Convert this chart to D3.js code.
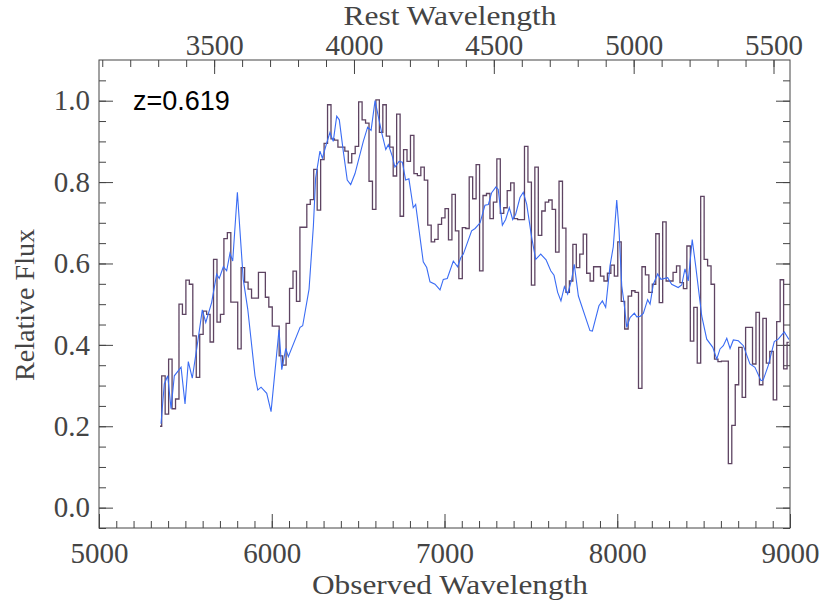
<!DOCTYPE html>
<html>
<head>
<meta charset="utf-8"/>
<script src="https://cdn.jsdelivr.net/npm/d3@7"></script>
<style>
html, body {
  margin: 0;
  background: #fff;
}
.axis text {
  font-family: "Liberation Serif", serif;
  font-size: 29px;
  fill: #444;
}
.axis line {
  stroke: #444;
  stroke-width: 1;
}
.title {
  font-family: "Liberation Serif", serif;
  font-size: 28px;
  fill: #444;
}
</style>
</head>
<body>
<svg id="chart" width="830" height="608"></svg>

<script>

// redshift of the object
var z = 0.619;

// observed spectrum, 20 A bins starting at binStart (drawn as histogram)
var binStart = 5353;
var binWidth = 20;
var obsFlux = [
  0.2, 0.324, 0.23, 0.365, 0.243, 0.267, 0.5, 0.475, 0.559, 0.549,
  0.422, 0.32, 0.426, 0.483, 0.475, 0.407, 0.61, 0.456, 0.475, 0.661,
  0.676, 0.505, 0.505, 0.39, 0.59, 0.554, 0.537, 0.515, 0.515, 0.578,
  0.578, 0.517, 0.493, 0.446, 0.446, 0.373, 0.35, 0.453, 0.539, 0.581,
  0.507, 0.689, 0.689, 0.745, 0.757, 0.831, 0.731, 0.855, 0.895, 0.99,
  0.906, 0.903, 0.886, 0.886, 0.876, 0.847, 0.87, 0.888, 0.997, 0.953,
  0.945, 0.802, 0.733, 1.002, 0.922, 0.99, 0.913, 0.886, 0.815, 0.967,
  0.716, 0.88, 0.851, 0.915, 0.821, 0.816, 0.837, 0.805, 0.694, 0.653,
  0.659, 0.696, 0.712, 0.735, 0.658, 0.77, 0.68, 0.563, 0.688, 0.686,
  0.813, 0.759, 0.843, 0.582, 0.767, 0.772, 0.71, 0.751, 0.857, 0.723,
  0.737, 0.779, 0.798, 0.71, 0.708, 0.708, 0.888, 0.8, 0.547, 0.837,
  0.669, 0.729, 0.751, 0.756, 0.733, 0.628, 0.802, 0.687, 0.529, 0.557,
  0.647, 0.59, 0.623, 0.672, 0.576, 0.557, 0.592, 0.592, 0.569, 0.557,
  0.576, 0.596, 0.569, 0.653, 0.507, 0.439, 0.52, 0.533, 0.529, 0.293,
  0.592, 0.572, 0.529, 0.549, 0.673, 0.504, 0.702, 0.557, 0.557, 0.578,
  0.594, 0.553, 0.538, 0.643, 0.409, 0.492, 0.355, 0.765, 0.61, 0.594,
  0.549, 0.365, 0.359, 0.36, 0.36, 0.108, 0.202, 0.302, 0.394, 0.271,
  0.443, 0.443, 0.353, 0.48, 0.302, 0.465, 0.355, 0.384, 0.265, 0.457,
  0.56, 0.341, 0.406
];

// template spectrum (blue line)
var tplWave = [
  5359, 5378, 5398, 5417, 5436, 5475, 5498, 5517, 5540, 5571,
  5598, 5618, 5652, 5681, 5696, 5720, 5739, 5758, 5774, 5801,
  5835, 5861, 5903, 5919, 5938, 5971, 5996, 6042, 6058, 6081,
  6096, 6164, 6179, 6216, 6241, 6254, 6279, 6293, 6318, 6337,
  6356, 6376, 6391, 6414, 6437, 6457, 6482, 6530, 6555, 6575,
  6598, 6621, 6636, 6660, 6675, 6698, 6713, 6737, 6756, 6775,
  6794, 6819, 6833, 6877, 6897, 6916, 6945, 6974, 6993, 7016,
  7051, 7076, 7094, 7109, 7157, 7177, 7206, 7234, 7254, 7273,
  7298, 7311, 7335, 7354, 7375, 7395, 7412, 7437, 7456, 7476,
  7505, 7528, 7557, 7588, 7615, 7634, 7655, 7674, 7694, 7713,
  7736, 7751, 7775, 7842, 7856, 7894, 7914, 7933, 7958, 7977,
  7997, 8010, 8026, 8039, 8055, 8074, 8099, 8113, 8132, 8151,
  8176, 8190, 8209, 8234, 8253, 8292, 8315, 8353, 8373, 8392,
  8411, 8434, 8454, 8489, 8518, 8553, 8576, 8595, 8614, 8634,
  8653, 8672, 8701, 8730, 8768, 8797, 8832, 8845, 8874, 8909,
  8932, 8967, 8994
];
var tplFlux = [
  0.206, 0.304, 0.324, 0.243, 0.324, 0.345, 0.255, 0.359, 0.318, 0.406,
  0.486, 0.455, 0.504, 0.574, 0.563, 0.592, 0.582, 0.625, 0.606, 0.775,
  0.561, 0.488, 0.324, 0.289, 0.296, 0.281, 0.236, 0.437, 0.339, 0.391,
  0.371, 0.443, 0.447, 0.537, 0.692, 0.81, 0.876, 0.859, 0.896, 0.922,
  0.9, 0.962, 0.953, 0.876, 0.805, 0.794, 0.821, 0.9, 0.935, 0.927,
  1.0, 0.953, 0.922, 0.88, 0.892, 0.863, 0.837, 0.851, 0.849, 0.805,
  0.808, 0.737, 0.745, 0.604, 0.59, 0.555, 0.549, 0.535, 0.561, 0.563,
  0.606, 0.592, 0.614, 0.623, 0.68, 0.686, 0.7, 0.743, 0.745, 0.774,
  0.788, 0.782, 0.694, 0.708, 0.737, 0.708, 0.721, 0.762, 0.775, 0.745,
  0.663, 0.61, 0.623, 0.609, 0.582, 0.571, 0.529, 0.508, 0.543, 0.525,
  0.561, 0.598, 0.52, 0.435, 0.434, 0.496, 0.508, 0.492, 0.594, 0.641,
  0.756, 0.684, 0.545, 0.504, 0.443, 0.467, 0.478, 0.469, 0.47, 0.477,
  0.511, 0.5, 0.549, 0.574, 0.561, 0.565, 0.549, 0.541, 0.547, 0.587,
  0.557, 0.659, 0.594, 0.471, 0.414, 0.394, 0.365, 0.39, 0.398, 0.416,
  0.391, 0.412, 0.41, 0.398, 0.353, 0.345, 0.312, 0.314, 0.349, 0.408,
  0.414, 0.432, 0.413
];

// axis ticks
var obsMajor = [5000, 6000, 7000, 8000, 9000];
var restMajor = [3500, 4000, 4500, 5000, 5500];
var fluxMajor = [0.0, 0.2, 0.4, 0.6, 0.8, 1.0];

//---------------------------------------
var mL = 99, mR = 790, mT = 60, mB = 528;

var svg = d3.select("#chart");

var x = d3.scaleLinear().domain([5000, 9000]).range([mL, mR]);
var xRest = d3.scaleLinear().domain([5000 / (1 + z), 9000 / (1 + z)]).range([mL, mR]);
var y = d3.scaleLinear().domain([-0.05, 1.1]).range([mB, mT]);

svg.append("clipPath").attr("id", "frame")
  .append("rect")
  .attr("x", mL).attr("y", mT)
  .attr("width", mR - mL).attr("height", mB - mT);

// minor tick lists
var obsMinor = d3.range(5000, 9001, 100);
var restMinor = d3.range(3100, 5501, 100);
var fluxMinor = d3.range(-0.05, 1.1, 0.05);

function addAxis(axis, tx, ty) {
  var g = svg.append("g").attr("class", "axis")
    .attr("transform", "translate(" + tx + "," + ty + ")")
    .call(axis);
  g.select(".domain").remove();
  return g;
}

// bottom
addAxis(d3.axisBottom(x).tickValues(obsMinor).tickSize(-7).tickFormat(""), 0, mB);
addAxis(d3.axisBottom(x).tickValues(obsMajor).tickSize(-14).tickPadding(14).tickFormat(d3.format("d")), 0, mB);
// top
addAxis(d3.axisTop(xRest).tickValues(restMinor).tickSize(-7).tickFormat(""), 0, mT);
addAxis(d3.axisTop(xRest).tickValues(restMajor).tickSize(-14).tickPadding(5).tickFormat(d3.format("d")), 0, mT);
// left
addAxis(d3.axisLeft(y).tickValues(fluxMinor).tickSize(-7).tickFormat(""), mL, 0);
addAxis(d3.axisLeft(y).tickValues(fluxMajor).tickSize(-14).tickPadding(9).tickFormat(d3.format(".1f")), mL, 0);
// right
addAxis(d3.axisRight(y).tickValues(fluxMinor).tickSize(-7).tickFormat(""), mR, 0);
addAxis(d3.axisRight(y).tickValues(fluxMajor).tickSize(-14).tickFormat(""), mR, 0);

svg.append("rect")
  .attr("x", mL).attr("y", mT)
  .attr("width", mR - mL).attr("height", mB - mT)
  .attr("fill", "none").attr("stroke", "#444").attr("stroke-width", 1);

// data
var obs = obsFlux.map(function(v, i) { return [binStart + i * binWidth, v]; });
var tpl = tplWave.map(function(w, i) { return [w, tplFlux[i]]; });

var plot = svg.append("g").attr("clip-path", "url(#frame)");

plot.append("path")
  .datum(obs)
  .attr("fill", "none")
  .attr("stroke", "#5e4462")
  .attr("stroke-width", 1.3)
  .attr("d", d3.line().x(function(d) { return x(d[0]); }).y(function(d) { return y(d[1]); }).curve(d3.curveStep));

plot.append("path")
  .datum(tpl)
  .attr("fill", "none")
  .attr("stroke", "#3a6cf4")
  .attr("stroke-width", 1.1)
  .attr("d", d3.line().x(function(d) { return x(d[0]); }).y(function(d) { return y(d[1]); }));

// titles
svg.append("text").attr("class", "title")
  .attr("x", 450).attr("y", 594)
  .attr("text-anchor", "middle")
  .attr("textLength", 276).attr("lengthAdjust", "spacingAndGlyphs")
  .text("Observed Wavelength");

svg.append("text").attr("class", "title")
  .attr("x", 450).attr("y", 25)
  .attr("text-anchor", "middle")
  .attr("textLength", 213).attr("lengthAdjust", "spacingAndGlyphs")
  .text("Rest Wavelength");

svg.append("text").attr("class", "title")
  .attr("transform", "translate(34,305) rotate(-90)")
  .attr("text-anchor", "middle")
  .attr("textLength", 152).attr("lengthAdjust", "spacingAndGlyphs")
  .text("Relative Flux");

svg.append("text")
  .attr("x", 133).attr("y", 110)
  .attr("font-family", "Liberation Sans, Arial, sans-serif")
  .attr("font-size", 27)
  .attr("fill", "#000")
  .text("z=" + z.toFixed(3));

</script>
</body>
</html>
